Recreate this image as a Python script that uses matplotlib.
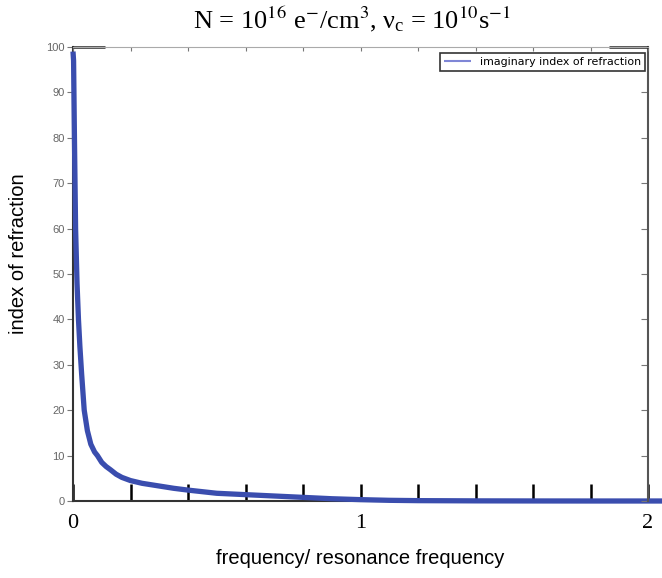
import matplotlib
matplotlib.use("Agg")
import matplotlib.pyplot as plt
import numpy as np

# data
freq = [0.0, 0.002, 0.005, 0.009, 0.014, 0.019, 0.024, 0.03, 0.039, 0.05,
        0.062, 0.075, 0.085, 0.1, 0.115, 0.13, 0.15, 0.17, 0.2, 0.24,
        0.3, 0.35, 0.4, 0.5, 0.6, 0.7, 0.8, 0.9, 1.0, 1.1,
        1.2, 1.4, 1.6, 1.8, 2.0, 2.1]
imag_index = [99, 97, 80, 60, 48, 40, 34, 28, 20, 15.5,
              12.5, 10.8, 10.0, 8.5, 7.6, 6.9, 5.9, 5.2, 4.5, 3.9,
              3.3, 2.8, 2.4, 1.7, 1.4, 1.1, 0.8, 0.5, 0.3, 0.15,
              0.08, 0.03, 0.01, 0.0, 0.0, 0.0]
xticks = [0, 0.2, 0.4, 0.6, 0.8, 1.0, 1.2, 1.4, 1.6, 1.8, 2.0]
xtick_labels = ["0", "", "", "", "", "1", "", "", "", "", "2"]
yticks = [0, 10, 20, 30, 40, 50, 60, 70, 80, 90, 100]
legend_label = "imaginary index of refraction"

plt.rcParams['mathtext.fontset'] = 'stix'

fig = plt.figure(figsize=(6.62, 5.78), dpi=100)
ax = fig.add_axes([73/662, 1-501/578, 575/662, 454/578])

line, = ax.plot(freq, imag_index, color='#3A4DAE', lw=3.8, clip_on=False,
                solid_capstyle='butt', solid_joinstyle='round', zorder=3)
ax.set_xlim(0, 2)
ax.set_ylim(0, 100)

# y axis
ax.set_yticks(yticks)
ax.set_yticklabels([str(v) for v in yticks], fontsize=8, color='#666666',
                   family='Liberation Sans')
ax.tick_params(axis='y', which='major', direction='out', length=4, width=0.8,
               color='#777777', pad=2, right=False)

# x axis: labels serif, thick inward ticks
ax.set_xticks(xticks)
ax.set_xticklabels(xtick_labels, fontsize=16, family='Liberation Serif')
ax.tick_params(axis='x', which='major', direction='in', length=12, width=1.8,
               color='black', pad=9)
xt = ax.xaxis.get_major_ticks()
xt[0].tick1line.set_visible(False)
xt[-1].tick1line.set_visible(False)

# right-side small inward ticks
axr = ax.twinx()
axr.set_ylim(0, 100)
axr.set_yticks(yticks)
axr.tick_params(axis='y', direction='in', length=5, width=0.8, color='#777777',
                labelright=False)
# top small ticks
axt = ax.twiny()
axt.set_xlim(0, 2)
axt.set_xticks(xticks)
axt.tick_params(axis='x', direction='in', length=3, width=0.8, color='#777777',
                labeltop=False)

for a in (ax, axr, axt):
    for s in a.spines.values():
        s.set_visible(False)

ax.spines['left'].set_visible(True)
ax.spines['left'].set_color('#333333')
ax.spines['left'].set_linewidth(1.5)
ax.spines['bottom'].set_visible(True)
ax.spines['bottom'].set_color('#333333')
ax.spines['bottom'].set_linewidth(1.5)
axr.spines['right'].set_visible(True)
axr.spines['right'].set_color('#555555')
axr.spines['right'].set_linewidth(1.5)
axt.spines['top'].set_visible(True)
axt.spines['top'].set_color('#aaaaaa')
axt.spines['top'].set_linewidth(0.8)
# thick dark segments on top frame corners
axt.plot([0, 0.11], [1, 1], transform=axt.get_xaxis_transform(), color='#222222',
         lw=1.8, clip_on=False, solid_capstyle='butt')
axt.plot([1.865, 2.0], [1, 1], transform=axt.get_xaxis_transform(), color='#222222',
         lw=1.8, clip_on=False, solid_capstyle='butt')

ax.set_xlabel("frequency/ resonance frequency", fontsize=14.5,
              family='Liberation Sans')
ax.xaxis.set_label_coords(0.5, -0.105)
ax.set_ylabel("index of refraction", fontsize=14.5, family='Liberation Sans')
ax.yaxis.set_label_coords(-0.078, 0.544)

leg = axt.legend([line], [legend_label], loc='upper right',
                 bbox_to_anchor=(0.995, 0.987), borderaxespad=0, frameon=True,
                 fancybox=False, handlelength=2.5, borderpad=0.35,
                 prop={'family': 'DejaVu Sans', 'size': 7.9})
leg.get_frame().set_edgecolor('black')
leg.get_frame().set_linewidth(1.2)
for h in leg.legend_handles:
    h.set_linewidth(1.5)
    h.set_color('#7F86D6')

fig.text(0.532, 0.966,
         r'N = 10$^{16}$ e$^{-}$/cm$^{3}$, $\mathregular{\nu_{c}}$ = 10$^{10}$s$^{-1}$',
         ha='center', va='center', fontsize=19, family='Liberation Serif')

fig.savefig("out.png", dpi=100)
